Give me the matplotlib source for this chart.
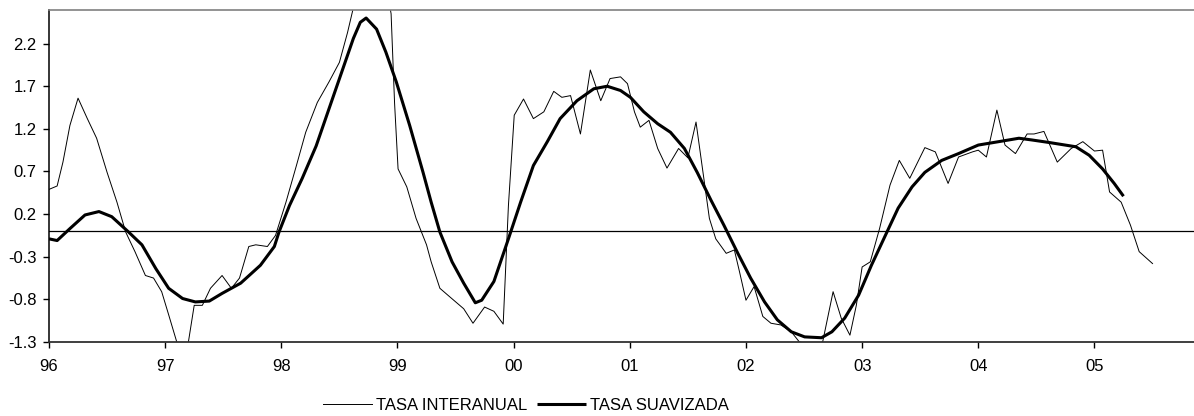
import matplotlib
matplotlib.use('Agg')
import matplotlib.pyplot as plt

# TASA INTERANUAL (decimal year, value)
inter_t = [1996.00, 1996.07, 1996.12, 1996.18, 1996.25, 1996.33, 1996.41, 1996.50, 1996.585, 1996.66,
	1996.74, 1996.83, 1996.90, 1996.97, 1997.03, 1997.10, 1997.15, 1997.20, 1997.25, 1997.32,
	1997.39, 1997.49, 1997.57, 1997.64, 1997.72, 1997.78, 1997.88, 1997.95, 1998.04, 1998.13,
	1998.21, 1998.31, 1998.41, 1998.50, 1998.57, 1998.62, 1998.68, 1998.76, 1998.85, 1998.92,
	1998.945, 1998.975, 1999.005, 1999.08, 1999.16, 1999.25, 1999.29, 1999.365, 1999.45, 1999.57,
	1999.65, 1999.75, 1999.83, 1999.91, 1999.955, 2000.005, 2000.085, 2000.17, 2000.26, 2000.345,
	2000.415, 2000.49, 2000.575, 2000.66, 2000.75, 2000.83, 2000.92, 2000.98, 2001.04, 2001.09,
	2001.165, 2001.24, 2001.32, 2001.42, 2001.50, 2001.57, 2001.63, 2001.685, 2001.74, 2001.83,
	2001.90, 2001.945, 2002.00, 2002.07, 2002.145, 2002.215, 2002.30, 2002.39, 2002.46, 2002.56,
	2002.66, 2002.75, 2002.82, 2002.895, 2002.95, 2003.00, 2003.07, 2003.15, 2003.24, 2003.32,
	2003.41, 2003.54, 2003.63, 2003.74, 2003.83, 2003.95, 2004.00, 2004.07, 2004.16, 2004.23,
	2004.32, 2004.42, 2004.48, 2004.565, 2004.68, 2004.80, 2004.90, 2005.00, 2005.07, 2005.13,
	2005.23, 2005.31, 2005.385, 2005.50]
inter_v = [0.49, 0.53, 0.81, 1.24, 1.56, 1.32, 1.09, 0.69, 0.34, -0.01,
	-0.24, -0.52, -0.55, -0.71, -0.98, -1.30, -1.50, -1.30, -0.87, -0.87,
	-0.67, -0.52, -0.67, -0.55, -0.18, -0.16, -0.18, -0.05, 0.34, 0.77,
	1.16, 1.51, 1.75, 1.98, 2.33, 2.62, 2.95, 3.05, 2.95, 2.75,
	2.55, 1.50, 0.73, 0.52, 0.15, -0.16, -0.36, -0.67, -0.77, -0.91,
	-1.08, -0.89, -0.94, -1.09, 0.30, 1.36, 1.55, 1.32, 1.40, 1.64,
	1.57, 1.59, 1.14, 1.89, 1.53, 1.79, 1.81, 1.73, 1.40, 1.22,
	1.30, 0.97, 0.74, 0.97, 0.86, 1.28, 0.69, 0.15, -0.09, -0.26,
	-0.22, -0.48, -0.81, -0.65, -1.00, -1.08, -1.10, -1.18, -1.30, -1.33,
	-1.30, -0.71, -1.02, -1.22, -0.87, -0.42, -0.36, 0.03, 0.54, 0.83,
	0.62, 0.98, 0.93, 0.56, 0.87, 0.93, 0.95, 0.87, 1.42, 1.01,
	0.91, 1.14, 1.14, 1.17, 0.81, 0.97, 1.05, 0.94, 0.95, 0.46,
	0.34, 0.07, -0.24, -0.38]

# TASA SUAVIZADA
suav_t = [1996.00, 1996.07, 1996.18, 1996.31, 1996.43, 1996.54, 1996.685, 1996.80, 1996.92, 1997.03,
	1997.15, 1997.26, 1997.38, 1997.49, 1997.65, 1997.82, 1997.94, 1997.98, 1998.07, 1998.18,
	1998.30, 1998.47, 1998.62, 1998.68, 1998.73, 1998.82, 1998.90, 1998.99, 1999.105, 1999.22,
	1999.29, 1999.365, 1999.47, 1999.57, 1999.67, 1999.725, 1999.83, 1999.955, 2000.06, 2000.17,
	2000.29, 2000.40, 2000.545, 2000.69, 2000.805, 2000.92, 2001.005, 2001.12, 2001.24, 2001.35,
	2001.47, 2001.58, 2001.70, 2001.81, 2001.93, 2002.04, 2002.16, 2002.27, 2002.39, 2002.505,
	2002.65, 2002.74, 2002.85, 2002.97, 2003.08, 2003.20, 2003.31, 2003.43, 2003.54, 2003.685,
	2003.83, 2004.00, 2004.22, 2004.35, 2004.46, 2004.61, 2004.84, 2004.955, 2005.07, 2005.17,
	2005.25]
suav_v = [-0.09, -0.11, 0.03, 0.19, 0.23, 0.17, -0.01, -0.16, -0.44, -0.67,
	-0.79, -0.83, -0.82, -0.73, -0.61, -0.40, -0.18, -0.01, 0.30, 0.62,
	1.00, 1.67, 2.26, 2.45, 2.50, 2.37, 2.10, 1.75, 1.24, 0.69,
	0.34, -0.01, -0.36, -0.61, -0.84, -0.81, -0.59, -0.09, 0.34, 0.77,
	1.05, 1.32, 1.53, 1.67, 1.70, 1.65, 1.57, 1.40, 1.26, 1.16,
	0.97, 0.69, 0.36, 0.07, -0.26, -0.55, -0.83, -1.04, -1.18, -1.24,
	-1.25, -1.18, -1.02, -0.75, -0.40, -0.05, 0.27, 0.52, 0.69, 0.83,
	0.91, 1.01, 1.06, 1.09, 1.07, 1.04, 0.99, 0.89, 0.73, 0.56,
	0.41]

year_ticks = [1996, 1997, 1998, 1999, 2000, 2001, 2002, 2003, 2004, 2005]
year_labels = ['96', '97', '98', '99', '00', '01', '02', '03', '04', '05']
y_ticks = [-1.3, -0.8, -0.3, 0.2, 0.7, 1.2, 1.7, 2.2]

plt.rcParams['font.family'] = ['Liberation Sans', 'DejaVu Sans']
plt.rcParams['font.size'] = 12

fig = plt.figure(figsize=(11.94, 4.16), dpi=100)
ax = fig.add_axes([49/1194, 74/416, 1150/1194, 332.5/416])

ax.axhline(0, color='black', lw=0.9, zorder=1)
l1, = ax.plot(inter_t, inter_v, color='black', lw=0.7, label='TASA INTERANUAL', zorder=2,
	solid_joinstyle='round')
l2, = ax.plot(suav_t, suav_v, color='black', lw=2.2, label='TASA SUAVIZADA', zorder=3,
	solid_joinstyle='round', solid_capstyle='butt')

ax.set_xlim(1996, 2005.9)
ax.set_ylim(-1.3, 2.6)
ax.set_xticks(year_ticks)
ax.set_xticklabels(year_labels)
ax.set_yticks(y_ticks)
ax.set_yticklabels(['{:.1f}'.format(v) for v in y_ticks])
ax.tick_params(direction='out', length=4, width=1, pad=8, labelsize=12)
ax.tick_params(axis='y', pad=5)

ax.spines['right'].set_visible(False)
ax.spines['top'].set_color('#808080')
ax.spines['top'].set_linewidth(1.2)
ax.spines['left'].set_linewidth(1.1)
ax.spines['bottom'].set_linewidth(1.3)
ax.spines['bottom'].set_color('#303030')

fig.legend(handles=[l1, l2], loc='center', bbox_to_anchor=(526/1194, 1-405/416),
	ncol=2, frameon=False, handlelength=2.9, handletextpad=0.25, columnspacing=0.6,
	fontsize=12)

plt.savefig('out.png', dpi=100)
plt.close(fig)
